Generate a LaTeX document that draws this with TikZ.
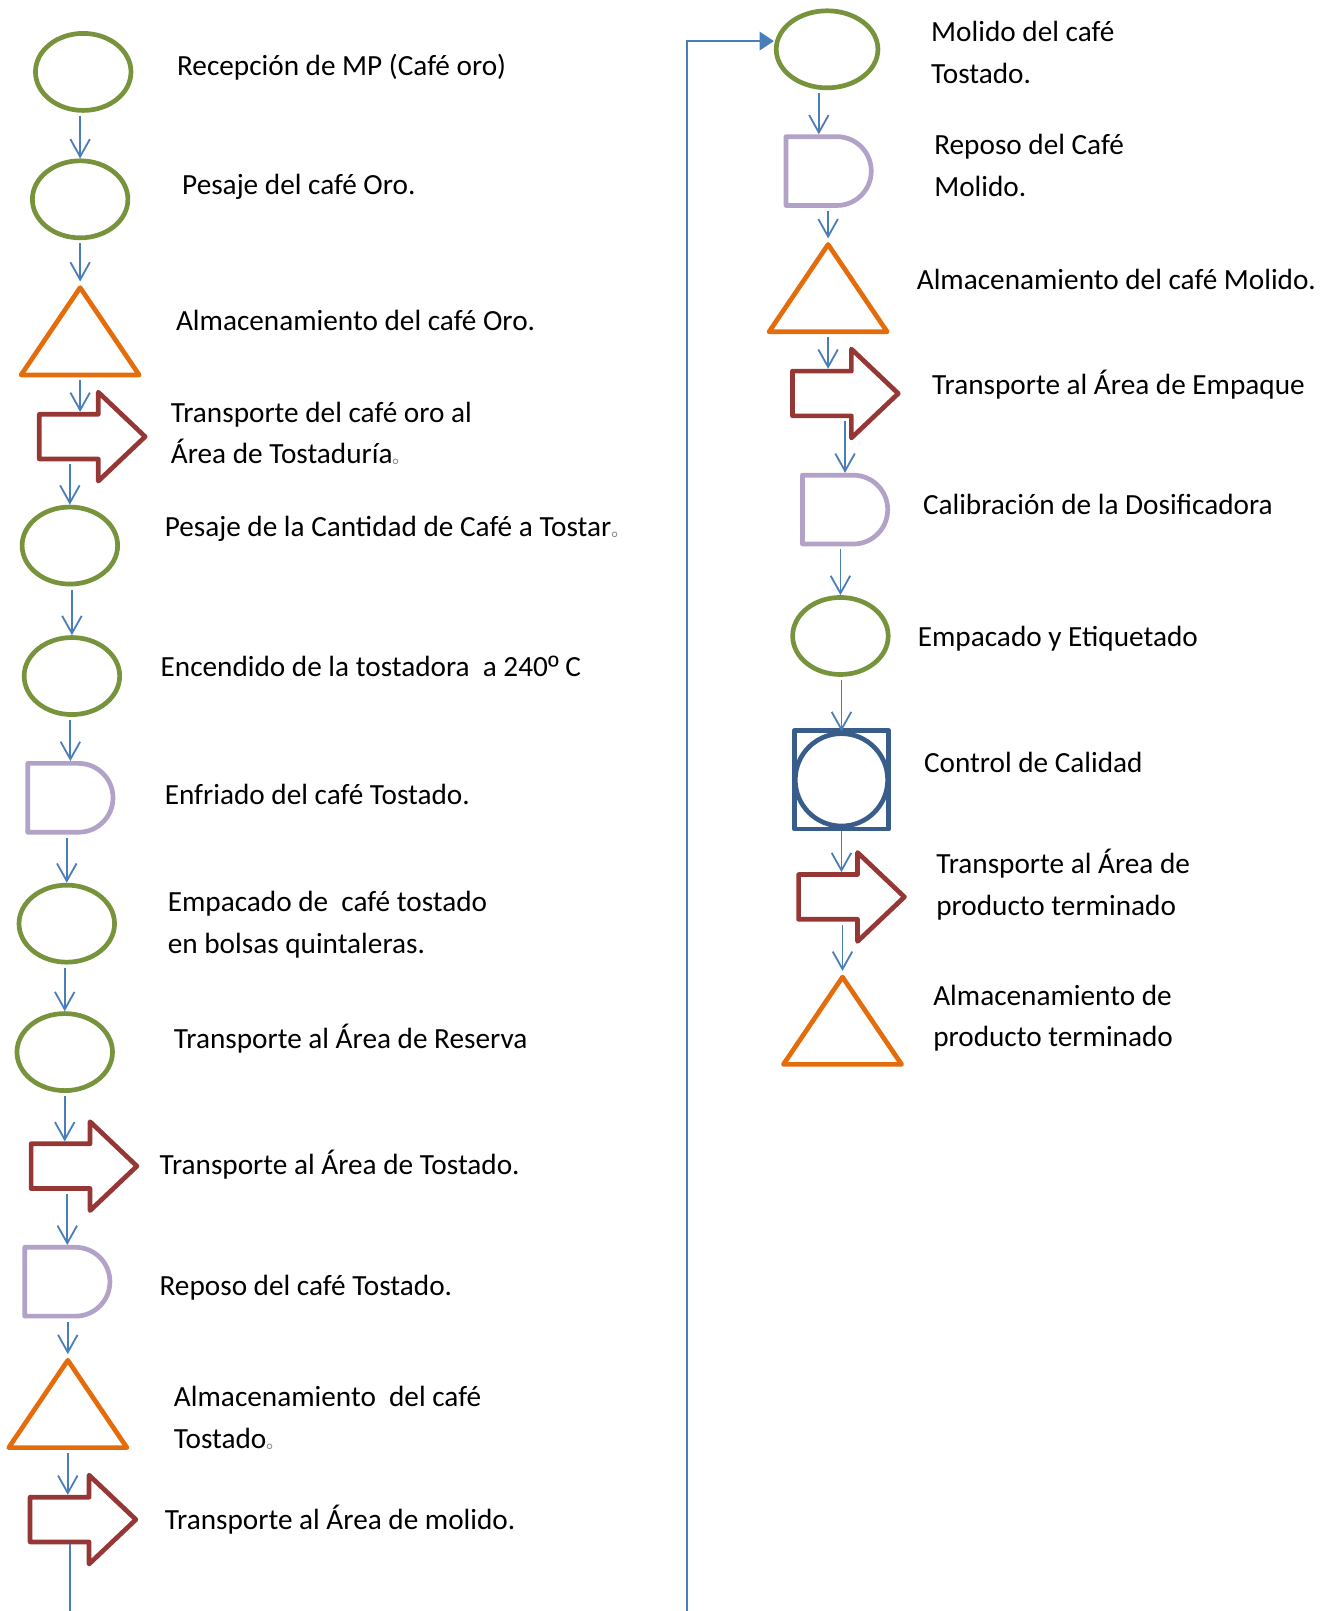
\documentclass[tikz,border=0pt]{standalone}
\usepackage{fontspec}
\setmainfont{Carlito}
\newfontfamily\cjk{Noto Sans CJK SC}
\newfontfamily\arial{Liberation Sans}
\usetikzlibrary{shapes.geometric,shapes.misc,shapes.arrows,arrows.meta}
\definecolor{verde}{HTML}{77933C}
\definecolor{naranja}{HTML}{E46C0A}
\definecolor{rojo}{HTML}{953735}
\definecolor{lila}{HTML}{B3A2C7}
\definecolor{azulC}{HTML}{385D8A}
\definecolor{azulF}{HTML}{4A7EBB}
\newcommand{\pto}{{\cjk\fontsize{10}{10}\selectfont\color{gray}。}}
\begin{document}
\begin{tikzpicture}[x=0.02cm,y=-0.02cm,
    font=\fontsize{16.2}{22.8}\selectfont,
    forma/.style={draw, line width=2.6pt, line join=round, inner sep=0pt},
    operacion/.style={forma, draw=verde, ellipse, minimum width=18.6mm, minimum height=15mm},
    almacen/.style={forma, draw=naranja, isosceles triangle, isosceles triangle stretches,
      shape border rotate=90, minimum width=23mm, minimum height=17mm, anchor=apex},
    transporte/.style={forma, draw=rojo, single arrow, minimum height=20.6mm, inner ysep=3.9mm,
      single arrow head extend=4.3mm, single arrow tip angle=87, anchor=tail},
    demora/.style={forma, draw=lila, rounded rectangle, rounded rectangle west arc=none,
      minimum width=16.6mm, minimum height=13.4mm},
    inspeccion/.style={forma, draw=azulC, minimum width=18.4mm, minimum height=19.2mm},
    texto/.style={anchor=west, align=left, inner sep=0pt},
    flecha/.style={draw=azulF, line width=1pt, shorten <=0.6mm, -{Straight Barb[length=3.4mm,width=3.8mm]}},
    enlace/.style={draw=azulF, line width=1.2pt}]
  \useasboundingbox (0,0) rectangle (1297,1568);

  % columna izquierda
  \node[operacion] (L1) at (81,70) {};
  \node[operacion] (L2) at (78,194) {};
  \node[almacen] (L3) at (78,274) {};
  \node[transporte] (L4) at (36,425) {};
  \node[operacion] (L5) at (68,531) {};
  \node[operacion] (L6) at (70,658) {};
  \node[demora] (L7) at (68.5,776.5) {};
  \node[operacion] (L8) at (65,899) {};
  \node[operacion] (L9) at (63,1024) {};
  \node[transporte] (L10) at (28,1135) {};
  \node[demora] (L11) at (65.5,1247.5) {};
  \node[almacen] (L12) at (66,1318) {};
  \node[transporte] (L13) at (27,1479) {};

  % columna derecha
  \node[operacion, minimum width=19.8mm] (R1) at (805,48) {};
  \node[demora] (R2) at (806.5,166.5) {};
  \node[almacen] (R3) at (806,232) {};
  \node[transporte] (R4) at (769,383) {};
  \node[demora] (R5) at (822.5,496) {};
  \node[operacion] (R6) at (818,619) {};
  \node[inspeccion] (R7) at (819,759) {};
  \node[forma, draw=azulC, circle, minimum size=18mm] (R7c) at (R7.center) {};
  \node[transporte] (R8) at (775,873) {};
  \node[almacen] (R9) at (820,945) {};

  % textos
  \node[texto] (t1) at (172,65) {Recepción de MP (Café oro)};
  \node[texto] (t2) at (177,182) {Pesaje del café Oro.};
  \node[texto] (t3) at (171,312) {Almacenamiento del café Oro.};
  \node[texto] (t4) at (166,422) {Transporte del café oro al\\Área de Tostaduría\pto};
  \node[texto] (t5) at (160,515) {Pesaje de la Cantidad de Café a Tostar\pto};
  \node[texto] (t6) at (156,649) {Encendido de la tostadora\ \ a 240{\arial º} C};
  \node[texto] (t7) at (160,773) {Enfriado del café Tostado.};
  \node[texto] (t8) at (163,900) {Empacado de\ \ café tostado\\en bolsas quintaleras.};
  \node[texto] (t9) at (169,1011) {Transporte al Área de Reserva};
  \node[texto] (t10) at (155,1134) {Transporte al Área de Tostado.};
  \node[texto] (t11) at (155,1253) {Reposo del café Tostado.};
  \node[texto] (t12) at (169,1380) {Almacenamiento\ \ del café\\Tostado\pto};
  \node[texto] (t13) at (160,1479) {Transporte al Área de molido.};
  \node[texto] (t14) at (906,51) {Molido del café\\Tostado.};
  \node[texto] (t15) at (909,161) {Reposo del Café\\Molido.};
  \node[texto] (t16) at (892,272) {Almacenamiento del café Molido.};
  \node[texto] (t17) at (907,374) {Transporte al Área de Empaque};
  \node[texto] (t18) at (898,491) {Calibración de la Dosificadora};
  \node[texto] (t19) at (893,622) {Empacado y Etiquetado};
  \node[texto] (t20) at (899,742) {Control de Calidad};
  \node[texto] (t21) at (911,861) {Transporte al Área de\\producto terminado};
  \node[texto] (t22) at (908,991) {Almacenamiento de\\producto terminado};

  % flechas entre pasos
  \foreach \a/\b in {L1/L2, L2/L3, L4/L5, L5/L6, L6/L7, L7/L8, L8/L9, L10/L11, L11/L12,
                     R2/R3, R4/R5, R5/R6, R6/R7c, R8/R9}
    \draw[flecha] (\b.north |- \a.south) -- (\b.north);
  \foreach \a/\b in {L3/L4, L9/L10, L12/L13, R3/R4, R7c/R8}
    \draw[flecha] (\a.south) -- (\a.south |- \b.north);
  \draw[flecha] ([xshift=-1.6mm]R1.south) -- ([xshift=-1.6mm]R1.south |- R2.north);

  % enlace hacia la segunda columna
  \coordinate (salida) at (68,1568);
  \coordinate (retorno) at (669,1568);
  \draw[enlace] (salida |- L13.south) -- (salida);
  \draw[enlace, -{Triangle[length=2.8mm,width=3.6mm]}] (retorno) |- ([yshift=1.6mm]R1.west);
\end{tikzpicture}
\end{document}
